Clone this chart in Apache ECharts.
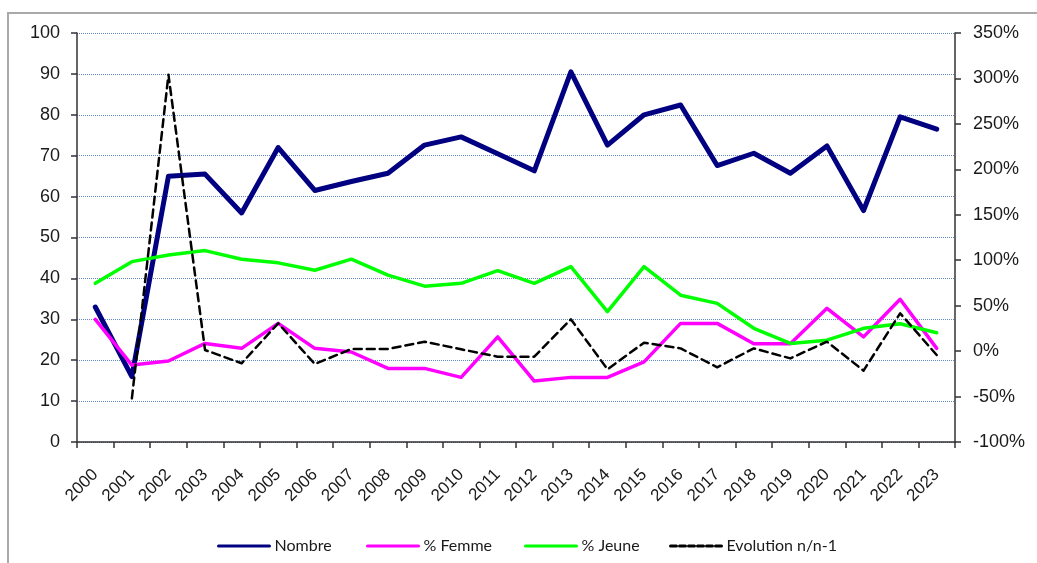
<!DOCTYPE html>
<html>
<head>
<meta charset="utf-8">
<title>Nombre / % Femme / % Jeune / Evolution</title>
<script src="https://cdn.jsdelivr.net/npm/echarts@6/dist/echarts.min.js"></script>
<style>
	html, body { margin: 0; padding: 0; background: #fff; }
	#frame { position: absolute; left: 7px; top: 12px; width: 1030px; height: 551px; border-top: 2px solid #a9a9a9; border-left: 2px solid #a9a9a9; }
	#chart-line-id { position: absolute; left: 0; top: 0; width: 1037px; height: 563px; }
</style>
</head>
<body>
<div id="frame"></div>
<div id="chart-line-id"></div>
<script>
'use strict';

var years = ['2000', '2001', '2002', '2003', '2004', '2005', '2006', '2007', '2008', '2009', '2010', '2011',
	'2012', '2013', '2014', '2015', '2016', '2017', '2018', '2019', '2020', '2021', '2022', '2023'];

//nombre (axe gauche)
var nombre = [33, 16, 65, 65.5, 56, 72, 61.5, 63.7, 65.7, 72.6, 74.6, 70.5,
	66.3, 90.5, 72.6, 80, 82.4, 67.6, 70.6, 65.7, 72.4, 56.6, 79.5, 76.5];
//% femme (axe gauche)
var femme = [30, 18.8, 19.8, 24.1, 22.9, 29, 22.9, 22, 18, 18, 15.8, 25.7,
	14.9, 15.8, 15.8, 19.6, 29, 29, 24, 24, 32.7, 25.7, 34.9, 22.9];
//% jeune (axe gauche)
var jeune = [38.8, 44.1, 45.7, 46.8, 44.7, 43.8, 42, 44.7, 40.8, 38.1, 38.8, 41.9,
	38.8, 42.9, 31.9, 42.9, 35.9, 33.9, 27.8, 24.1, 24.9, 27.8, 28.9, 26.7];
//evolution n/n-1 en % (axe droit)
var evolution = [null, -52, 304, 1.2, -13.4, 30.6, -14.2, 2.3, 2.3, 10.4, 2, -6.1,
	-6.1, 35, -20, 9.3, 3, -17.8, 3, -8, 10.4, -21.5, 41.6, -4.3];

var leftTicks = { min: 0, max: 100, interval: 10 };
var rightTicks = { min: -100, max: 350, interval: 50 };

var legendNames = ['Nombre', '% Femme', '% Jeune', 'Evolution n/n-1'];
var colorList = ['#000080', '#ff00ff', '#00ff00', '#000000'];

var axisFont = 'Arial';
var legendFont = 'Lato';

var el = document.getElementById('chart-line-id');
var lineChart = echarts.init(el, null, { renderer: 'canvas' });

//une legende par serie pour caler les positions
var legendLeft = [212, 361, 519, 664];
var legends = legendNames.map(function (name, index) {
	return {
		left: legendLeft[index],
		top: 533,
		itemWidth: 51,
		itemHeight: 20,
		itemGap: 0,
		textStyle: { color: '#1a1a1a', fontSize: 16, fontFamily: legendFont },
		data: [{
			name: name,
			itemStyle: { opacity: 0 },
			lineStyle: { width: 3, type: index == 3 ? [6, 3] : 'solid' }
		}]
	};
});

var seriesData = [nombre, femme, jeune, evolution];
var widths = [5, 3.5, 3.5, 2.5];
var series = [];
legendNames.forEach(function (name, index) {
	series.push({
		name: name,
		type: 'line',
		yAxisIndex: index == 3 ? 1 : 0,
		symbol: 'none',
		connectNulls: false,
		lineStyle: {
			color: colorList[index],
			width: widths[index],
			type: index == 3 ? [8, 5] : 'solid',
			join: 'round',
			cap: 'round'
		},
		itemStyle: { color: colorList[index] },
		emphasis: { disabled: true },
		data: seriesData[index]
	});
});

lineChart.setOption({
	animation: false,
	color: colorList,
	legend: legends,
	grid: {
		left: 77,
		right: 82,
		top: 33,
		bottom: 121,
		containLabel: false
	},
	xAxis: {
		type: 'category',
		boundaryGap: true,
		data: years,
		axisLine: { lineStyle: { color: '#333', width: 1.5 } },
		axisTick: { show: true, length: 6, lineStyle: { color: '#333', width: 1.5 } },
		axisLabel: {
			interval: 0,
			rotate: 45,
			margin: 30,
			color: '#1a1a1a',
			fontSize: 17,
			fontFamily: axisFont
		},
		splitLine: { show: false }
	},
	yAxis: [{
		type: 'value',
		position: 'left',
		min: leftTicks.min,
		max: leftTicks.max,
		interval: leftTicks.interval,
		axisLine: { show: true, lineStyle: { color: '#333', width: 1.5 } },
		axisTick: { show: true, length: 6, lineStyle: { color: '#333', width: 1.5 } },
		axisLabel: { margin: 17, color: '#1a1a1a', fontSize: 18, fontFamily: axisFont },
		splitLine: {
			show: true,
			lineStyle: { color: '#5f86c6', width: 1, type: [1, 1] }
		}
	}, {
		type: 'value',
		position: 'right',
		min: rightTicks.min,
		max: rightTicks.max,
		interval: rightTicks.interval,
		axisLine: { show: true, lineStyle: { color: '#333', width: 1.5 } },
		axisTick: { show: true, length: 6, lineStyle: { color: '#333', width: 1.5 } },
		axisLabel: {
			margin: 18,
			color: '#1a1a1a',
			fontSize: 18,
			fontFamily: axisFont,
			formatter: function (v) { return v + '%'; }
		},
		splitLine: { show: false }
	}],
	series: series
});
</script>
</body>
</html>
